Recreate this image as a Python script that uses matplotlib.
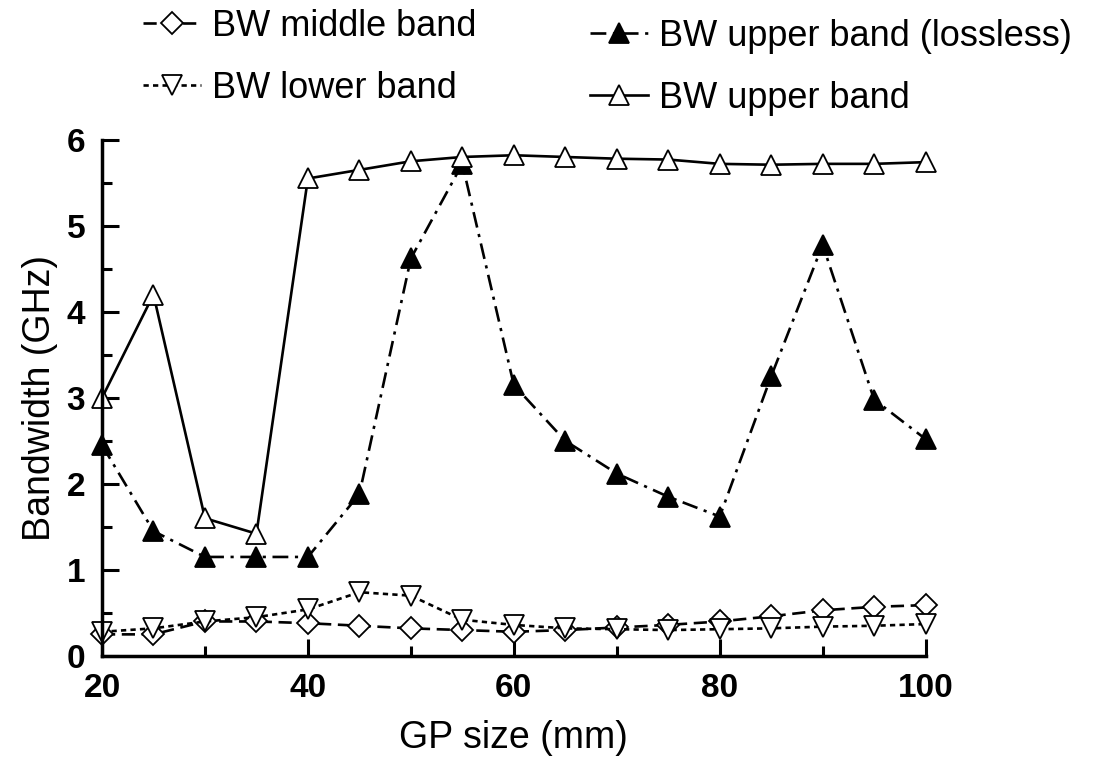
import matplotlib
matplotlib.use("Agg")
import matplotlib.pyplot as plt
from matplotlib.ticker import MultipleLocator

plt.rcParams["font.family"] = ["Liberation Sans", "DejaVu Sans"]

gp_size = [20, 25, 30, 35, 40, 45, 50, 55, 60, 65, 70, 75, 80, 85, 90, 95, 100]
bw_middle = [0.25, 0.25, 0.40, 0.40, 0.38, 0.35, 0.32, 0.30, 0.28, 0.30, 0.33, 0.36, 0.40, 0.46, 0.53, 0.57, 0.59]
bw_lower = [0.28, 0.32, 0.40, 0.45, 0.54, 0.74, 0.70, 0.42, 0.36, 0.32, 0.31, 0.30, 0.31, 0.32, 0.34, 0.35, 0.37]
bw_upper_lossless = [2.45, 1.45, 1.15, 1.15, 1.15, 1.88, 4.62, 5.72, 3.15, 2.50, 2.12, 1.85, 1.62, 3.25, 4.78, 2.98, 2.52]
bw_upper = [3.00, 4.20, 1.60, 1.42, 5.55, 5.65, 5.75, 5.80, 5.82, 5.80, 5.78, 5.77, 5.72, 5.71, 5.72, 5.72, 5.74]

fig = plt.figure(figsize=(11.16, 7.68), dpi=100)
ax = fig.add_axes([0.0914, 0.146, 0.738, 0.672])

lw = 1.9
mk = dict(mec="black", mew=1.3, clip_on=False)
h_mid, = ax.plot(gp_size, bw_middle, color="black", lw=lw, ls=(0, (5, 2.5)), marker="D", ms=11.5,
                 mfc="white", label="BW middle band", **mk)
h_low, = ax.plot(gp_size, bw_lower, color="black", lw=lw, ls=(0, (2, 1.6)), marker="v", ms=14,
                 mfc="white", label="BW lower band", **mk)
h_loss, = ax.plot(gp_size, bw_upper_lossless, color="black", lw=lw, ls=(0, (6, 2.5, 1.2, 2.5)), marker="^", ms=14,
                  mfc="black", label="BW upper band (lossless)", **mk)
h_up, = ax.plot(gp_size, bw_upper, color="black", lw=lw, ls="-", marker="^", ms=14,
                mfc="white", label="BW upper band", **mk)

ax.set_xlim(20, 100)
ax.set_ylim(0, 6)
ax.xaxis.set_major_locator(MultipleLocator(20))
ax.xaxis.set_minor_locator(MultipleLocator(10))
ax.yaxis.set_major_locator(MultipleLocator(1))
ax.yaxis.set_minor_locator(MultipleLocator(0.5))

for side in ("top", "right"):
    ax.spines[side].set_visible(False)
for side in ("left", "bottom"):
    ax.spines[side].set_linewidth(2.5)
ax.tick_params(which="major", direction="in", length=12, width=2.2, labelsize=24, pad=12)
ax.tick_params(which="minor", direction="in", length=7, width=2.2)
for lab in ax.get_xticklabels() + ax.get_yticklabels():
    lab.set_fontweight("bold")

ax.set_xlabel("GP size (mm)", fontsize=27, labelpad=12)
ax.set_ylabel("Bandwidth (GHz)", fontsize=27, labelpad=6)

leg_kw = dict(loc="upper left", frameon=False, fontsize=26, borderpad=0, borderaxespad=0,
              handlelength=1.6, handletextpad=0.3, labelspacing=0.75)
fig.legend([h_mid, h_low], ["BW middle band", "BW lower band"],
           bbox_to_anchor=(143 / 1116, 1 - 9 / 768), **leg_kw)
fig.legend([h_loss, h_up], ["BW upper band (lossless)", "BW upper band"],
           bbox_to_anchor=(590 / 1116, 1 - 19 / 768), **leg_kw)

fig.savefig("out.png", dpi=100)
